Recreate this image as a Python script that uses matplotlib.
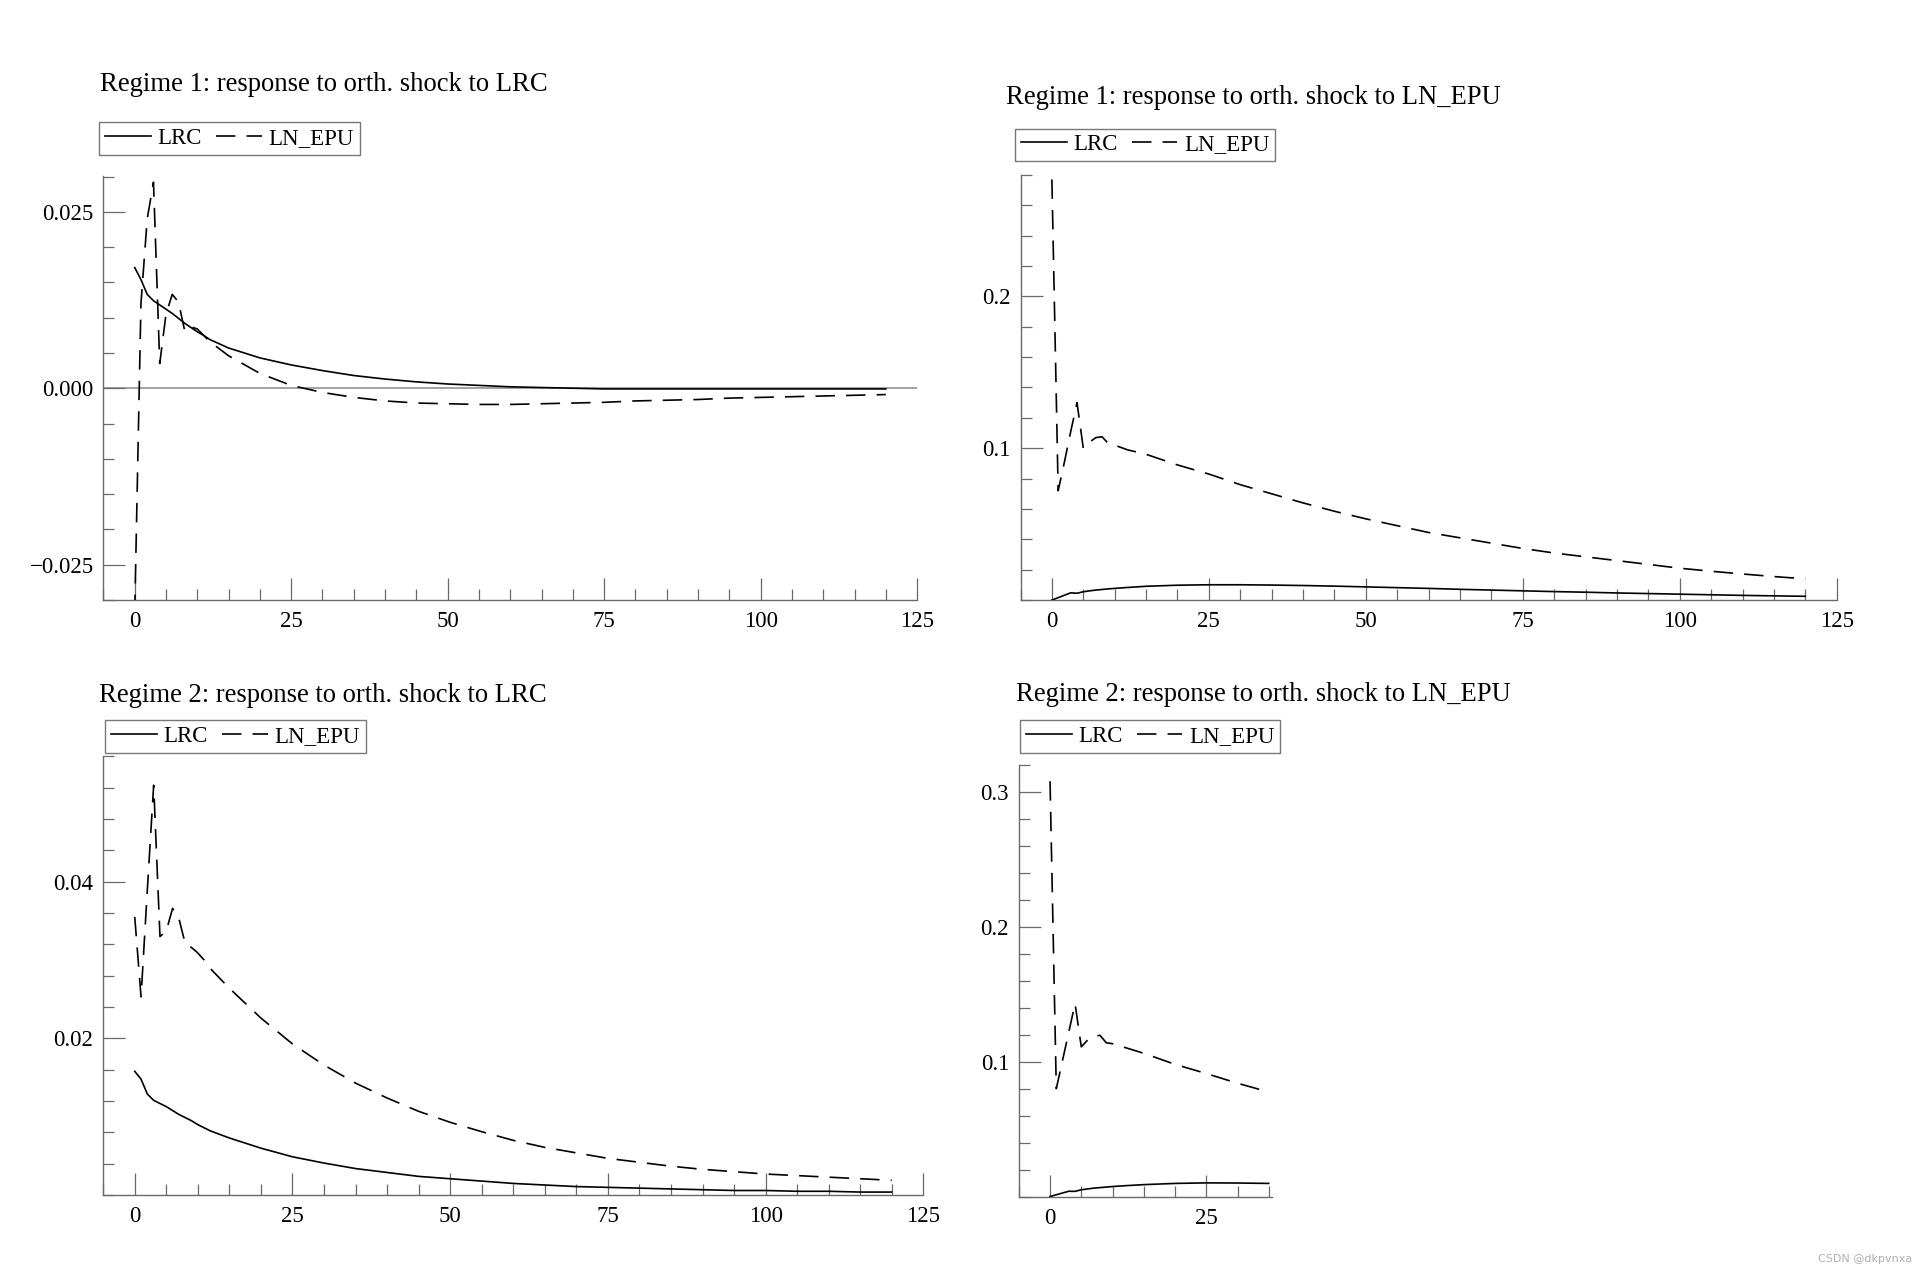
import matplotlib
matplotlib.use("Agg")
import matplotlib.pyplot as plt
from matplotlib.lines import Line2D
from matplotlib.ticker import MultipleLocator, FixedLocator, FixedFormatter

plt.rcParams['font.family'] = ['Liberation Serif', 'DejaVu Serif']
plt.rcParams['axes.unicode_minus'] = True
plt.rcParams['lines.scale_dashes'] = False

# ---------------- data ----------------
horizon_long = [0, 1, 2, 3, 4, 5, 6, 7, 8, 9, 10, 11, 12, 15, 20, 25, 30, 35, 40, 45,
                50, 55, 60, 65, 70, 75, 80, 85, 90, 95, 100, 105, 110, 115, 120]
horizon_short = [0, 1, 2, 3, 4, 5, 6, 7, 8, 9, 10, 11, 12, 15, 20, 25, 30, 35]

# Regime 1, shock to LRC
r1_lrc_LRC = [0.0171, 0.0154, 0.0133, 0.0124, 0.0118, 0.0112, 0.0106, 0.0099, 0.0092, 0.0086,
              0.0080, 0.0075, 0.0069, 0.0057, 0.0043, 0.0033, 0.0025, 0.0018, 0.0013, 0.0009,
              0.0006, 0.0004, 0.0002, 0.0001, 0.0000, -0.0001, -0.0001, -0.0001, -0.0001, -0.0001,
              -0.0001, -0.0001, -0.0001, -0.0001, -0.0001]
r1_lrc_EPU = [-0.0320, 0.0120, 0.0240, 0.0292, 0.0035, 0.0105, 0.0133, 0.0122, 0.0081, 0.0087,
              0.0084, 0.0075, 0.0066, 0.0046, 0.0021, 0.0004, -0.0006, -0.0013, -0.0018, -0.0021,
              -0.0022, -0.0023, -0.0023, -0.0022, -0.0021, -0.0020, -0.0018, -0.0017, -0.0016, -0.0014,
              -0.0013, -0.0012, -0.0011, -0.0010, -0.0009]

# Regime 1, shock to LN_EPU
r1_epu_LRC = [0.0000, 0.0016, 0.0032, 0.0048, 0.0045, 0.0055, 0.0061, 0.0066, 0.0070, 0.0074,
              0.0077, 0.0080, 0.0083, 0.0091, 0.0098, 0.0101, 0.0101, 0.0099, 0.0096, 0.0092,
              0.0087, 0.0082, 0.0077, 0.0071, 0.0066, 0.0061, 0.0056, 0.0052, 0.0047, 0.0043,
              0.0039, 0.0035, 0.0031, 0.0028, 0.0025]
r1_epu_EPU = [0.277, 0.072, 0.091, 0.111, 0.130, 0.100, 0.104, 0.107, 0.1075, 0.103,
              0.102, 0.1005, 0.099, 0.096, 0.089, 0.083, 0.076, 0.070, 0.064, 0.0585,
              0.0535, 0.049, 0.0445, 0.041, 0.0375, 0.034, 0.031, 0.0285, 0.026, 0.0235,
              0.021, 0.019, 0.0172, 0.0155, 0.014]

# Regime 2, shock to LRC
r2_lrc_LRC = [0.0158, 0.0148, 0.0129, 0.0121, 0.0117, 0.0113, 0.0108, 0.0103, 0.0099, 0.0095,
              0.0090, 0.0086, 0.0082, 0.0073, 0.0060, 0.0049, 0.0041, 0.0034, 0.0029, 0.0024,
              0.0021, 0.0018, 0.0015, 0.0013, 0.0011, 0.0010, 0.0009, 0.0008, 0.0007, 0.0006,
              0.0006, 0.0005, 0.0005, 0.0004, 0.0004]
r2_lrc_EPU = [0.0355, 0.0253, 0.0390, 0.0523, 0.0330, 0.0337, 0.0366, 0.0353, 0.0321, 0.0316,
              0.0309, 0.0300, 0.0289, 0.0264, 0.0226, 0.0193, 0.0166, 0.0143, 0.0124, 0.0107,
              0.0093, 0.0081, 0.0070, 0.0061, 0.0054, 0.0047, 0.0042, 0.0037, 0.0033, 0.0030,
              0.0027, 0.0025, 0.0023, 0.0021, 0.0019]

# Regime 2, shock to LN_EPU
r2_epu_LRC = [0.0000, 0.0013, 0.0026, 0.0039, 0.0038, 0.0050, 0.0056, 0.0062, 0.0066, 0.0070,
              0.0074, 0.0077, 0.0080, 0.0088, 0.0097, 0.0101, 0.0100, 0.0097]
r2_epu_EPU = [0.308, 0.080, 0.101, 0.122, 0.143, 0.111, 0.116, 0.119, 0.1195, 0.114,
              0.1133, 0.112, 0.1105, 0.1062, 0.098, 0.0912, 0.084, 0.0775]

titles = ["Regime 1: response to orth. shock to LRC",
          "Regime 1: response to orth. shock to LN_EPU",
          "Regime 2: response to orth. shock to LRC",
          "Regime 2: response to orth. shock to LN_EPU"]
series_names = ["LRC", "LN_EPU"]

# ---------------- layout ----------------
W, H = 1920, 1280
fig = plt.figure(figsize=(W / 100, H / 100), dpi=100)
FS = 16.5
TFS = 19.2
AXC = '#6a6a6a'
DASH = (0, (14, 8))


def add_axes_px(left, top, right, bottom):
    return fig.add_axes([left / W, 1 - bottom / H, (right - left) / W, (bottom - top) / H])


panels = [
    dict(box=(103.4, 176.5, 917.1, 599.9), x=horizon_long, lrc=r1_lrc_LRC, epu=r1_lrc_EPU,
         xlim=(-5, 125), ylim=(-0.03, 0.03), ymaj=[-0.025, 0.0, 0.025], ylab=["−0.025", "0.000", "0.025"],
         ymin=0.005, zero=True, xt=[0, 25, 50, 75, 100, 125],
         title_xy=(100.4, 90.7), leg_xy=(99.2, 122.4)),
    dict(box=(1020.5, 174.8, 1836.7, 600.1), x=horizon_long, lrc=r1_epu_LRC, epu=r1_epu_EPU,
         xlim=(-5, 125), ylim=(0, 0.28), ymaj=[0.1, 0.2], ylab=["0.1", "0.2"],
         ymin=0.02, zero=False, xt=[0, 25, 50, 75, 100, 125],
         title_xy=(1006.5, 104.5), leg_xy=(1015.1, 128.6)),
    dict(box=(103.2, 756.2, 923.3, 1195.2), x=horizon_long, lrc=r2_lrc_LRC, epu=r2_lrc_EPU,
         xlim=(-5, 125), ylim=(0, 0.056), ymaj=[0.02, 0.04], ylab=["0.02", "0.04"],
         ymin=0.004, zero=False, xt=[0, 25, 50, 75, 100, 125],
         title_xy=(99.2, 702), leg_xy=(105.3, 720)),
    dict(box=(1018.8, 765, 1271.9, 1196.5), x=horizon_short, lrc=r2_epu_LRC, epu=r2_epu_EPU,
         xlim=(-5, 35.5), ylim=(0, 0.32), ymaj=[0.1, 0.2, 0.3], ylab=["0.1", "0.2", "0.3"],
         ymin=0.02, zero=False, xt=[0, 25],
         title_xy=(1016.3, 701), leg_xy=(1020, 720)),
]

for i, p in enumerate(panels):
    ax = add_axes_px(*p['box'])
    ax.set_facecolor('none')
    if p['zero']:
        ax.axhline(0, color='#9a9a9a', lw=1.3, zorder=1)
    ax.plot(p['x'], p['lrc'], color='black', lw=1.2, zorder=3)
    ax.plot(p['x'], p['epu'], color='black', lw=1.2, linestyle=DASH, zorder=3)
    x0, x1 = p['xlim']
    y0, y1 = p['ylim']
    ax.set_xlim(x0, x1)
    ax.set_ylim(y0, y1 + (y1 - y0) * 1e-4)
    for s in ['top', 'right']:
        ax.spines[s].set_visible(False)
    for s in ['left', 'bottom']:
        ax.spines[s].set_color(AXC)
        ax.spines[s].set_linewidth(1.0)
    ax.xaxis.set_major_locator(FixedLocator(p['xt']))
    ax.xaxis.set_minor_locator(MultipleLocator(5))
    ax.yaxis.set_major_locator(FixedLocator(p['ymaj']))
    ax.yaxis.set_major_formatter(FixedFormatter(p['ylab']))
    ax.yaxis.set_minor_locator(MultipleLocator(p['ymin']))
    ax.tick_params(which='major', direction='in', length=16, width=0.9, color=AXC,
                   labelsize=FS, pad=7)
    ax.tick_params(which='minor', direction='in', length=8, width=0.9, color=AXC)
    ax.tick_params(axis='x', which='major', pad=8)

    tx, ty = p['title_xy']
    fig.text(tx / W, 1 - ty / H, titles[i], fontsize=TFS, ha='left', va='baseline')

    handles = [Line2D([], [], color='black', lw=1.2),
               Line2D([], [], color='black', lw=1.2, linestyle=DASH)]
    lx, ly = p['leg_xy']
    leg = fig.legend(handles, series_names, loc='upper left',
                     bbox_to_anchor=(lx / W, 1 - ly / H), bbox_transform=fig.transFigure,
                     ncols=2, fontsize=FS, frameon=True, fancybox=False, shadow=False,
                     borderaxespad=0, borderpad=0.25, handlelength=2.0, handletextpad=0.3,
                     columnspacing=0.6)
    leg.get_frame().set_edgecolor('#555555')
    leg.get_frame().set_linewidth(1.0)

fig.text(1912 / W, 1 - 1262 / H, "CSDN @dkpvnxa", fontsize=8, color='#b0b0b0',
         ha='right', va='baseline', family=['DejaVu Sans'])

fig.savefig('out.png', dpi=100, facecolor='white')
